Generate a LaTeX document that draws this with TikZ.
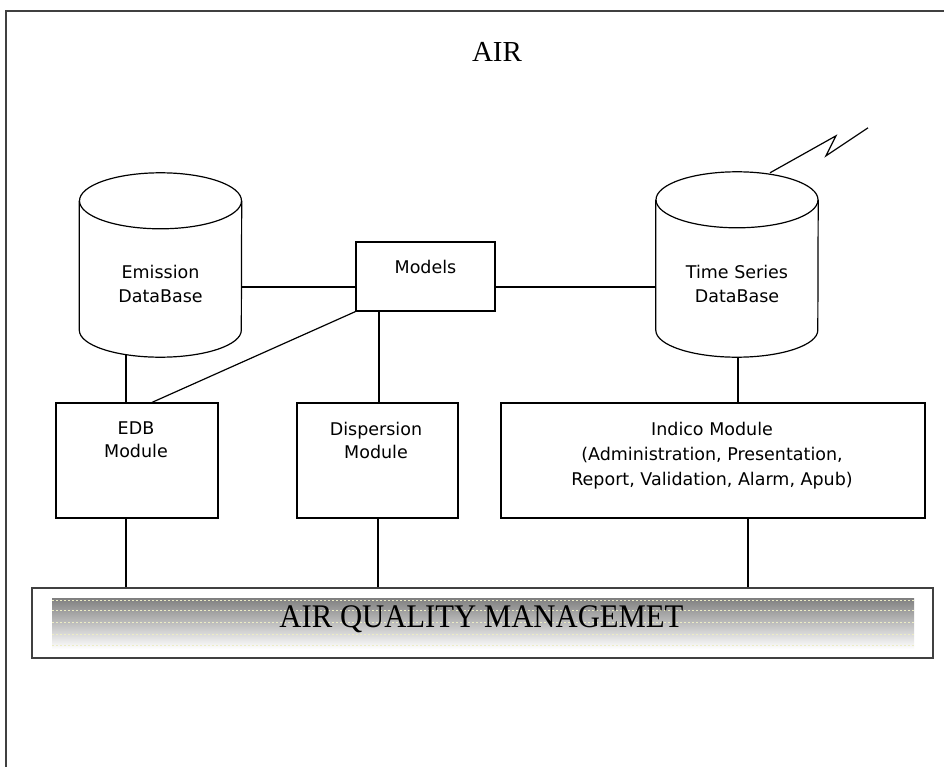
\documentclass[tikz,border=0pt]{standalone}
\usepackage{fontspec}
\setmainfont{Liberation Serif}
\newfontfamily\dvs{DejaVu Sans}
\usetikzlibrary{calc}
\definecolor{framegray}{RGB}{64,64,64}
\definecolor{shade}{RGB}{216,216,244}
\definecolor{shadey}{RGB}{236,236,196}
\tikzset{
  conn/.style={draw=black, line width=1.2pt},
  modbox/.style={draw=black, line width=1.2pt, fill=white, inner sep=0pt},
  dbarea/.style={draw=none, inner sep=0pt, minimum width=162pt},
  sanslbl/.style={font=\dvs\fontsize{17.5}{24}\selectfont, align=center, inner sep=0pt},
  seriflbl/.style={inner sep=0pt, anchor=base}
}
\newcommand{\drawdbcyl}[1]{%
  \draw[conn] ([yshift=-28pt]#1.north west) -- ([yshift=27pt]#1.south west)
     arc[start angle=180, end angle=360, x radius=81pt, y radius=27pt]
     -- ([yshift=-28pt]#1.north east);
  \draw[conn] ([yshift=-28pt]#1.north) ellipse [x radius=81pt, y radius=28pt];
}
\begin{document}
\begin{tikzpicture}[x=1pt, y=-1pt]
\useasboundingbox (0,0) rectangle (944,767);
\fill[white] (0,0) rectangle (944,767);
% outer frame
\draw[framegray, line width=2pt] (6,767) -- (6,11) -- (944,11);
% title
\node[seriflbl, font=\fontsize{29}{29}\selectfont] (title) at (497,62) {AIR};

% databases (cylinders)
\node[dbarea, minimum height=184pt] (emis) at (160.5,265) {};
\drawdbcyl{emis}
\node[sanslbl] (emisT) at (160.5,283.5) {Emission\\DataBase};

\node[dbarea, minimum height=185pt] (ts) at (737,264.5) {};
\drawdbcyl{ts}
\node[sanslbl] (tsT) at (737,284.4) {Time Series\\DataBase};

% models
\node[modbox, minimum width=139pt, minimum height=69pt] (models) at (425.5,276.5) {};
\node[sanslbl, anchor=base] (modelsT) at (425.5,273) {Models};

% modules
\node[modbox, minimum width=162pt, minimum height=115pt] (edb) at (137,460.5) {};
\node[sanslbl, font=\dvs\fontsize{17.5}{23}\selectfont] (edbT) at (136,440) {EDB\\Module};

\node[modbox, minimum width=161pt, minimum height=115pt] (disp) at (377.5,460.5) {};
\node[sanslbl, font=\dvs\fontsize{17.5}{23}\selectfont] (dispT) at (376,440) {Dispersion\\Module};

\node[modbox, minimum width=424pt, minimum height=115pt] (indico) at (713,460.5) {};
\node[sanslbl, font=\dvs\fontsize{17.5}{25}\selectfont] (indicoT) at (712,455.4)
  {Indico Module\\(Administration, Presentation,\\Report, Validation, Alarm, Apub)};

% air quality management bar
\node[draw=framegray, line width=2pt, fill=white, inner sep=0pt,
      minimum width=901pt, minimum height=70pt] (aqm) at (482.5,623) {};
\fill[shade] (52,598) rectangle (914,649);
\foreach \yy in {600,610,622,634,645}{
  \draw[shadey, line width=0.9pt, dash pattern=on 2pt off 2pt] (52,\yy) -- (914,\yy);
}
\node[seriflbl] (aqmT) at (481.5,627)
  {\scalebox{0.93}[1]{\fontsize{33}{33}\selectfont AIR QUALITY MANAGEMET}};

% connectors
\draw[conn] ([yshift=-22pt]emis.east) -- ([yshift=-22pt]emis.east -| models.west);
\draw[conn] ([yshift=-10.5pt]models.east) -- ([yshift=-10.5pt]models.east -| ts.west);
\draw[conn] ([xshift=-34.5pt,yshift=2.6pt]emis.south) -- ([xshift=-11pt]edb.north);
\draw[conn] (models.south west) -- ([xshift=15pt]edb.north);
\draw[conn] ([xshift=-46.5pt]models.south) -- ([xshift=-46.5pt]models.south |- disp.north);
\draw[conn] ([xshift=1pt]ts.south) -- ([xshift=1pt]ts.south |- indico.north);
\draw[conn] ([xshift=-11pt]edb.south) -- ([xshift=-11pt]edb.south |- aqm.north);
\draw[conn] ([xshift=0.5pt]disp.south) -- ([xshift=0.5pt]disp.south |- aqm.north);
\draw[conn] ([xshift=35pt]indico.south) -- ([xshift=35pt]indico.south |- aqm.north);
% lightning from the time series database
\draw[conn, line join=miter] ([xshift=33pt,yshift=-1pt]ts.north) -- ++(66,-37) -- ++(-10,20) -- ++(42,-28);
\end{tikzpicture}
\end{document}
